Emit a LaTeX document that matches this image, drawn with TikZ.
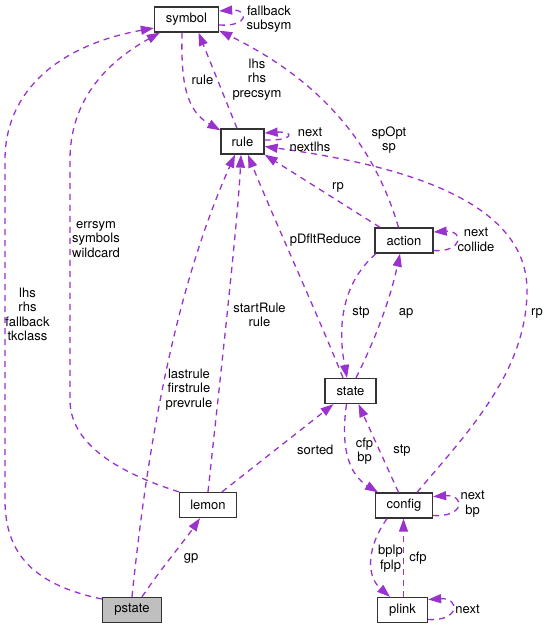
\documentclass[tikz,border=0pt]{standalone}
\usepackage{fontspec}
\setmainfont{TeX Gyre Heros}
\usepackage{tikz}
\usetikzlibrary{arrows.meta}
\definecolor{edgecol}{HTML}{9A32CD}
\tikzset{
  cls/.style={draw=black!80, line width=1.3pt, fill=white, rectangle, inner sep=0pt,
    minimum height=25pt, font=\fontsize{13}{14.5}\selectfont},
  lbl/.style={align=center, inner sep=0pt, font=\fontsize{13}{14.5}\selectfont},
  rel/.style={draw=edgecol, line width=1.3pt, dash pattern=on 6pt off 5pt,
    -{Triangle[length=13pt,width=9pt,fill=edgecol]}},
}
\begin{document}
\begin{tikzpicture}[x=1pt,y=-1pt]
\useasboundingbox (0,0) rectangle (548,629);

% classes
\node[cls, minimum width=64pt] (symbol) at (186.5,19.5) {symbol};
\node[cls, minimum width=43pt] (rule) at (242.5,141.5) {rule};
\node[cls, minimum width=58pt] (action) at (404,240.5) {action};
\node[cls, minimum width=51pt] (state) at (350.5,391) {state};
\node[cls, minimum width=57pt] (lemon) at (208,505) {lemon};
\node[cls, minimum width=57pt] (config) at (404,505.5) {config};
\node[cls, minimum width=50pt] (plink) at (402.5,610) {plink};
\node[cls, minimum width=59pt, fill=black!25] (pstate) at (132,610) {pstate};

% members
\draw[rel] ([yshift=-5.5pt]symbol.east) .. controls +(30,2) and +(30,-2) .. ([yshift=8.5pt]symbol.east);
\draw[rel] ([xshift=-4.5pt]symbol.south) .. controls (181,80) and (185,110) .. ([yshift=-2pt]rule.north west);
\draw[rel] ([xshift=-5.5pt]rule.north) -- ([xshift=12pt]symbol.south);
\draw[rel] ([yshift=1.5pt]rule.east) .. controls +(30,1) and +(30,-2) .. ([yshift=8.5pt]rule.east);
\draw[rel] ([xshift=-24pt]action.north) -- (rule.south east);
\draw[rel] ([xshift=-5.5pt]action.north) .. controls (380,165) and (340,90) .. ([yshift=2pt]symbol.south east);
\draw[rel] ([xshift=13pt]config.north) .. controls (470,430) and (527,370) .. (527,290)
  .. controls (527,200) and (400,165) .. ([yshift=-5pt]rule.east);
\draw[rel] ([yshift=-10pt]action.east) .. controls +(30,2) and +(30,-2) .. ([yshift=8.5pt]action.east);
\draw[rel] ([xshift=-7.5pt]state.north) .. controls (320,320) and (270,210) .. ([xshift=5.5pt]rule.south);
\draw[rel] ([xshift=-28pt]action.south) .. controls (340,285) and (338,330) .. ([xshift=-3.5pt]state.north);
\draw[rel] ([xshift=5.5pt]state.north) .. controls (375,340) and (390,300) .. ([xshift=-4pt]action.south);
\draw[rel] (lemon.north) .. controls (220,380) and (238,220) .. ([xshift=-1.5pt]rule.south);
\draw[rel] (pstate.north) .. controls (145,470) and (170,300) .. ([xshift=-7.5pt]rule.south);
\draw[rel] (lemon.north west) .. controls (110,470) and (70,440) .. (70,400) -- (70,160)
  .. controls (70,90) and (120,55) .. ([xshift=6pt]symbol.south west);
\draw[rel] ([yshift=11pt]pstate.west) .. controls (35,585) and (5,555) .. (5,500) -- (5,160)
  .. controls (5,90) and (60,45) .. ([yshift=-8.5pt]symbol.west);
\draw[rel] ([xshift=14pt]lemon.north) -- ([xshift=-17pt]state.south);
\draw[rel] ([xshift=-4pt]state.south) .. controls (340,450) and (350,475) .. ([xshift=-26pt]config.north);
\draw[rel] ([xshift=-5.5pt]config.north) -- ([xshift=8pt]state.south);
\draw[rel] ([yshift=-10pt]config.east) .. controls +(32,2) and +(32,-2) .. ([yshift=9pt]config.east);
\draw[rel] ([xshift=-17pt]config.south) .. controls (368,545) and (365,575) .. ([xshift=-12.5pt]plink.north);
\draw[rel] ([xshift=1pt]plink.north) -- ([xshift=-0.5pt]config.south);
\draw[rel] ([yshift=-9.5pt]plink.east) .. controls +(32,2) and +(32,-2) .. ([yshift=10.5pt]plink.east);
\draw[rel] ([xshift=10pt]pstate.north) .. controls (160,570) and (185,540) .. ([xshift=-8pt]lemon.south);

% labels
\node[lbl] (l-symself) at (269,19) {fallback\\subsym};
\node[lbl] (l-rule) at (202.5,80) {rule};
\node[lbl] (l-lhs) at (257,79.5) {lhs\\rhs\\precsym};
\node[lbl] (l-ruleself) at (310,140) {next\\nextlhs};
\node[lbl] (l-spopt) at (389,140) {spOpt\\sp};
\node[lbl] (l-rp) at (338,187) {rp};
\node[lbl] (l-pdflt) at (325.5,240) {pDfltReduce};
\node[lbl] (l-actself) at (476,240) {next\\collide};
\node[lbl] (l-stp) at (361,313) {stp};
\node[lbl] (l-ap) at (406,313) {ap};
\node[lbl] (l-cfgrp) at (537,313) {rp};
\node[lbl] (l-errsym) at (96,239.5) {errsym\\symbols\\wildcard};
\node[lbl] (l-tkclass) at (27.5,314.5) {lhs\\rhs\\fallback\\tkclass};
\node[lbl] (l-start) at (259.5,315) {startRule\\rule};
\node[lbl] (l-last) at (189,389.5) {lastrule\\firstrule\\prevrule};
\node[lbl] (l-sorted) at (315.3,450) {sorted};
\node[lbl] (l-cfpbp) at (364.5,451) {cfp\\bp};
\node[lbl] (l-cfgstp) at (402,450.7) {stp};
\node[lbl] (l-cfgself) at (472.7,504) {next\\bp};
\node[lbl] (l-bplp) at (390.5,558.5) {bplp\\fplp};
\node[lbl] (l-cfp) at (418,558.3) {cfp};
\node[lbl] (l-plself) at (467.5,609.3) {next};
\node[lbl] (l-gp) at (191,558.3) {gp};
\end{tikzpicture}
\end{document}
